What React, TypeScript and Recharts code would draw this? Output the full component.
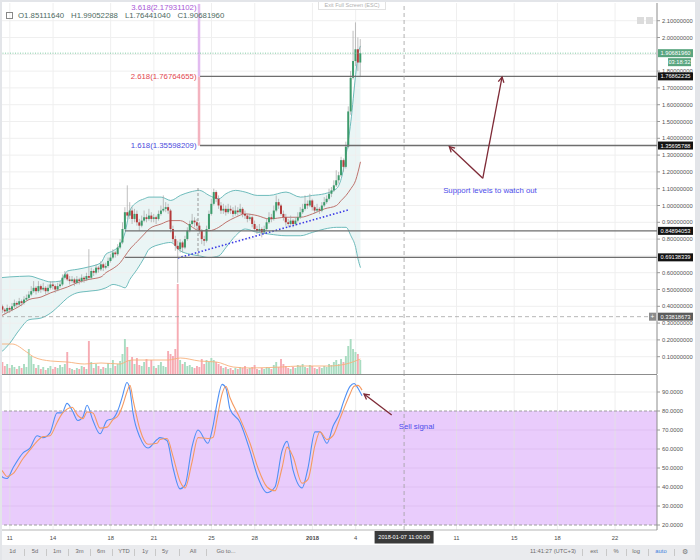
import React from 'react';
import {
  ComposedChart,
  Bar,
  Line,
  Area,
  XAxis,
  YAxis,
  ReferenceLine,
  ReferenceArea,
  ReferenceDot,
} from 'recharts';

const FONT = '"Liberation Sans", Arial, Helvetica, sans-serif';

// ---------- axes ----------
// x: days since 2017-12-11 00:00
const dayTicks = [0, 3, 7, 10, 14, 17, 21, 24, 31, 35, 38, 42];
const dayLabels = ['11', '14', '18', '21', '25', '28', '2018', '4', '11', '15', '18', '22'];
const priceGrid = [0.1, 0.2, 0.3, 0.4, 0.5, 0.6, 0.7, 0.8, 0.9, 1.0, 1.1, 1.2, 1.3, 1.4, 1.5, 1.6, 1.7, 1.8, 1.9, 2.0, 2.1];
// labels hidden behind the price badges (1.9 and 0.7) are not printed
const priceTicks = [0.1, 0.2, 0.3, 0.4, 0.5, 0.6, 0.8, 0.9, 1.0, 1.1, 1.2, 1.3, 1.4, 1.5, 1.6, 1.7, 1.8, 2.0, 2.1];
const rsiTicks = [20, 30, 40, 50, 60, 70, 80, 90];
const X_DOMAIN: [number, number] = [-0.68, 44.91];
const PRICE_DOMAIN: [number, number] = [-0.003, 2.2054];
const RSI_DOMAIN: [number, number] = [17.37, 98.95];
const VOL_DOMAIN: [number, number] = [0, 371];

// 4h candles starting 2017-12-10 08:00
const firstCandleDay = -2 / 3;
const candleStep = 1 / 6;

// [open, high, low, close]
const candles: number[][] = [
  [0.41, 0.43, 0.38, 0.40], [0.40, 0.41, 0.36, 0.38], [0.38, 0.39, 0.35, 0.37], [0.37, 0.41, 0.36, 0.39], [0.39, 0.40, 0.36, 0.38],
  [0.38, 0.42, 0.37, 0.40], [0.40, 0.44, 0.39, 0.42], [0.42, 0.43, 0.39, 0.41], [0.41, 0.45, 0.40, 0.43], [0.43, 0.44, 0.40, 0.42],
  [0.42, 0.46, 0.41, 0.44], [0.44, 0.47, 0.43, 0.45], [0.45, 0.49, 0.44, 0.47], [0.47, 0.52, 0.46, 0.49], [0.49, 0.55, 0.48, 0.51],
  [0.51, 0.52, 0.47, 0.49], [0.49, 0.55, 0.48, 0.52], [0.52, 0.53, 0.48, 0.50], [0.50, 0.54, 0.49, 0.51], [0.51, 0.52, 0.47, 0.49],
  [0.49, 0.53, 0.48, 0.51], [0.51, 0.55, 0.50, 0.53], [0.53, 0.55, 0.50, 0.52], [0.52, 0.53, 0.48, 0.50], [0.50, 0.54, 0.49, 0.52],
  [0.52, 0.55, 0.51, 0.53], [0.53, 0.59, 0.52, 0.57], [0.57, 0.61, 0.56, 0.59], [0.59, 0.60, 0.55, 0.56], [0.56, 0.58, 0.53, 0.55],
  [0.55, 0.58, 0.54, 0.56], [0.56, 0.57, 0.52, 0.54], [0.54, 0.58, 0.53, 0.56], [0.56, 0.57, 0.53, 0.55], [0.55, 0.59, 0.54, 0.57],
  [0.57, 0.58, 0.54, 0.56], [0.56, 0.60, 0.55, 0.58], [0.58, 0.74, 0.56, 0.57], [0.57, 0.63, 0.56, 0.61], [0.61, 0.62, 0.58, 0.60],
  [0.60, 0.65, 0.59, 0.63], [0.63, 0.64, 0.60, 0.62], [0.62, 0.67, 0.61, 0.65], [0.65, 0.66, 0.61, 0.63], [0.63, 0.66, 0.62, 0.64],
  [0.64, 0.69, 0.63, 0.67], [0.67, 0.71, 0.66, 0.69], [0.69, 0.74, 0.68, 0.72], [0.72, 0.73, 0.69, 0.71], [0.71, 0.77, 0.70, 0.75],
  [0.75, 0.80, 0.74, 0.78], [0.78, 0.90, 0.77, 0.86], [0.86, 0.99, 0.85, 0.96], [0.96, 1.12, 0.92, 0.94], [0.94, 1.02, 0.92, 0.97],
  [0.97, 0.99, 0.89, 0.92], [0.92, 0.98, 0.90, 0.95], [0.95, 0.97, 0.88, 0.90], [0.90, 0.92, 0.85, 0.88], [0.88, 0.94, 0.87, 0.91],
  [0.91, 0.97, 0.90, 0.93], [0.93, 0.95, 0.90, 0.92], [0.92, 0.98, 0.91, 0.94], [0.94, 0.96, 0.90, 0.92], [0.92, 0.95, 0.90, 0.93],
  [0.93, 0.94, 0.89, 0.92], [0.92, 0.97, 0.91, 0.95], [0.95, 1.00, 0.94, 0.97], [0.97, 1.06, 0.96, 0.98], [0.98, 1.02, 0.96, 0.99],
  [0.99, 1.01, 0.95, 0.97], [0.97, 0.98, 0.84, 0.86], [0.86, 0.88, 0.78, 0.80], [0.80, 0.82, 0.73, 0.76], [0.76, 0.79, 0.54, 0.74],
  [0.74, 0.80, 0.72, 0.78], [0.78, 0.79, 0.72, 0.75], [0.75, 0.82, 0.74, 0.80], [0.80, 0.87, 0.79, 0.85], [0.85, 0.91, 0.84, 0.89],
  [0.89, 0.95, 0.88, 0.91], [0.91, 0.93, 0.87, 0.90], [0.90, 0.92, 0.86, 0.88], [0.88, 0.90, 0.83, 0.85], [0.85, 0.86, 0.77, 0.80],
  [0.80, 0.82, 0.76, 0.79], [0.79, 0.88, 0.78, 0.86], [0.86, 0.97, 0.85, 0.95], [0.95, 1.04, 0.94, 1.01], [1.01, 1.10, 1.00, 1.08],
  [1.08, 1.09, 1.02, 1.04], [1.04, 1.06, 0.98, 1.00], [1.00, 1.02, 0.95, 0.97], [0.97, 1.01, 0.95, 0.98], [0.98, 1.00, 0.94, 0.96],
  [0.96, 1.01, 0.95, 0.98], [0.98, 1.00, 0.95, 0.97], [0.97, 0.99, 0.93, 0.95], [0.95, 1.00, 0.94, 0.97], [0.97, 0.99, 0.94, 0.96],
  [0.96, 1.01, 0.95, 0.98], [0.98, 0.99, 0.93, 0.95], [0.95, 0.97, 0.92, 0.94], [0.94, 0.95, 0.90, 0.92], [0.92, 0.95, 0.91, 0.93],
  [0.93, 0.94, 0.87, 0.89], [0.89, 0.91, 0.85, 0.86], [0.86, 0.88, 0.83, 0.85], [0.85, 0.89, 0.84, 0.86], [0.86, 0.87, 0.81, 0.84],
  [0.84, 0.88, 0.83, 0.86], [0.86, 0.92, 0.85, 0.90], [0.90, 0.96, 0.89, 0.93], [0.93, 0.95, 0.90, 0.92], [0.92, 1.00, 0.91, 0.97],
  [0.97, 1.06, 0.96, 1.02], [1.02, 1.04, 0.98, 1.00], [1.00, 1.01, 0.94, 0.95], [0.95, 0.97, 0.91, 0.93], [0.93, 0.95, 0.88, 0.90],
  [0.90, 0.92, 0.87, 0.89], [0.89, 0.94, 0.88, 0.91], [0.91, 0.92, 0.87, 0.89], [0.89, 0.93, 0.88, 0.91], [0.91, 0.96, 0.90, 0.93],
  [0.93, 0.99, 0.92, 0.96], [0.96, 1.01, 0.95, 0.98], [0.98, 1.06, 0.97, 1.01], [1.01, 1.03, 0.98, 1.00], [1.00, 1.07, 0.99, 1.03],
  [1.03, 1.04, 0.97, 0.99], [0.99, 1.00, 0.95, 0.97], [0.97, 1.01, 0.96, 0.98], [0.98, 0.99, 0.95, 0.97], [0.97, 1.02, 0.96, 1.00],
  [1.00, 1.05, 0.99, 1.02], [1.02, 1.06, 1.01, 1.04], [1.04, 1.10, 1.03, 1.07], [1.07, 1.11, 1.05, 1.09], [1.09, 1.15, 1.08, 1.12],
  [1.12, 1.21, 1.11, 1.15], [1.15, 1.20, 1.13, 1.18], [1.18, 1.29, 1.17, 1.27], [1.27, 1.28, 1.20, 1.23], [1.23, 1.38, 1.22, 1.35],
  [1.35, 1.59, 1.34, 1.56], [1.56, 1.80, 1.54, 1.76], [1.76, 2.04, 1.75, 1.86], [1.86, 2.09, 1.83, 1.93], [1.93, 2.00, 1.80, 1.8511164],
  [1.8511164, 1.99052288, 1.7644104, 1.9068196],
];

const volumes: number[] = [
  22, 12, 8, 10, 6,
  9, 7, 5, 8, 6, 10, 7, 25,
  18, 10, 6, 9, 5, 7, 4, 6,
  8, 5, 7, 6, 9, 7, 10, 22, 6, 5,
  4, 6, 5, 8, 7, 5, 33, 12, 6, 10,
  8, 5, 7, 6, 11, 6, 14, 8, 10, 13,
  20, 35, 27, 14, 17, 10, 16, 9, 8, 12,
  15, 7, 14, 8, 6, 9, 12, 8, 7, 23,
  20, 18, 25, 90, 14, 10, 12, 8, 9, 7,
  6, 8, 7, 15, 10, 14, 12, 16, 14, 12,
  10, 8, 6, 7, 5, 6, 4, 6, 5, 7,
  6, 8, 5, 6, 7, 9, 5, 4, 6, 5,
  7, 6, 5, 9, 12, 7, 15, 10, 8, 6,
  5, 7, 6, 9, 8, 10, 7, 6, 9, 8,
  6, 5, 7, 6, 8, 7, 10, 9, 12, 14,
  10, 15, 12, 18, 28, 35, 25, 22, 20, 14,
];

// [candle index, lower, basis, upper]
const bollinger: number[][] = [
  [0, 0.12, 0.34, 0.57], [4, 0.18, 0.37, 0.575], [8, 0.26, 0.40, 0.578], [12, 0.32, 0.44, 0.58], [17, 0.33, 0.455, 0.56],
  [21, 0.36, 0.48, 0.545], [25, 0.41, 0.50, 0.55], [28, 0.45, 0.515, 0.61], [32, 0.48, 0.54, 0.62], [37, 0.49, 0.56, 0.635],
  [42, 0.50, 0.575, 0.66], [44, 0.51, 0.60, 0.71], [47, 0.53, 0.625, 0.73], [50, 0.52, 0.66, 0.77], [52, 0.51, 0.70, 0.84],
  [54, 0.56, 0.74, 0.97], [57, 0.62, 0.785, 1.02], [60, 0.69, 0.83, 1.04], [62, 0.74, 0.86, 1.05], [67, 0.77, 0.89, 1.05],
  [71, 0.78, 0.91, 1.03], [75, 0.73, 0.91, 1.06], [79, 0.71, 0.88, 1.08], [83, 0.70, 0.85, 1.09], [87, 0.69, 0.85, 1.06],
  [91, 0.70, 0.87, 1.04], [94, 0.75, 0.90, 1.07], [98, 0.82, 0.93, 1.09], [102, 0.86, 0.95, 1.08], [107, 0.84, 0.94, 1.06],
  [112, 0.83, 0.92, 1.06], [119, 0.82, 0.93, 1.08], [125, 0.82, 0.93, 1.05], [130, 0.84, 0.95, 1.06], [135, 0.86, 0.98, 1.07],
  [140, 0.87, 1.00, 1.10], [142, 0.87, 1.03, 1.16], [144, 0.87, 1.06, 1.30], [146, 0.82, 1.10, 1.50], [148, 0.75, 1.15, 1.78],
  [149, 0.68, 1.20, 1.90], [150, 0.63, 1.26, 1.95],
];

// [candle index, volume moving average]
const volumeMA: number[][] = [
  [0, 30], [5, 30], [11, 22], [14, 17], [21, 13], [28, 12], [35, 10], [42, 11], [50, 10], [53, 13], [55, 14],
  [62, 14], [70, 14], [75, 16], [83, 13], [90, 12], [97, 7], [104, 6], [117, 7], [125, 8], [137, 8], [144, 10], [150, 15],
];

// [day, %K, %D]
const stochRsi: number[][] = [
  [-0.68, 47, 50], [-0.47, 45, 48], [-0.19, 44.5, 45.5], [0.22, 50, 47], [0.92, 58, 55], [1.40, 60.5, 59.5],
  [1.89, 67, 64], [2.30, 66, 66.5], [2.79, 68.5, 67], [3.28, 79, 74], [3.62, 79, 78.5], [3.97, 84, 81],
  [4.32, 80.5, 82], [4.73, 75, 77.5], [5.08, 77, 76], [5.36, 83, 79.5], [5.77, 75, 79], [6.26, 68, 71],
  [6.75, 75, 71.5], [7.16, 76, 75.5], [7.51, 80.5, 77.5], [7.79, 87, 82], [8.13, 95, 90], [8.34, 91, 93.5],
  [8.55, 79, 86], [9.04, 66, 70], [9.59, 60.5, 62.5], [10.22, 65, 63], [10.42, 66, 65], [10.91, 64.5, 65.5],
  [11.33, 50, 56], [11.81, 39, 43], [12.16, 41, 39.5], [12.64, 61, 53], [13.06, 70, 66], [13.75, 63, 65.5],
  [14.10, 72, 66], [14.38, 84, 76], [14.73, 94, 89], [15.00, 92, 93], [15.28, 81, 87], [15.98, 74, 76],
  [16.67, 59, 63], [17.22, 45, 50], [17.85, 37, 40], [18.40, 40, 38], [18.89, 59, 50], [19.24, 64, 61],
  [19.65, 49, 56], [20.28, 39.5, 42], [20.69, 50, 44], [21.18, 69, 62], [21.52, 69, 69], [22.01, 63, 65],
  [22.43, 72, 67], [22.91, 79, 76], [23.12, 84, 80], [23.61, 93, 89], [23.89, 94.5, 93], [24.16, 92, 93.5],
  [24.44, 88, 91],
];

// drawn levels: [price, start day]
const supportLevels: number[][] = [
  [1.76862235, 13.2], [1.35695788, 13.2], [0.84894053, 8.0], [0.69138339, 8.0],
];
const fibLevels = [
  { label: '3.618(2.17931102)', value: 2.17931102, color: '#a957d6' },
  { label: '2.618(1.76764655)', value: 1.76764655, color: '#e2474f' },
  { label: '1.618(1.35598209)', value: 1.35598209, color: '#4b4bdc' },
];
const fibDay = 13.13;
const fibLabelDay = 12.96;
const lastPrice = 1.9068196;
const countdown = '03:18:32';
const crosshairDay = 27.36;
const crosshairPrice = 0.33818673;
const crosshairLabel = '2018-01-07 11:00:00';
const trendline = [[11.67, 0.6875], [23.47, 0.9732]];
const priceArrows = [
  [[32.82, 1.162], [30.5, 1.35]],
  [[32.82, 1.162], [34.16, 1.765]],
];
const supportNote = { text: 'Support levels to watch out', day: 33.32, price: 1.088 };
const rsiArrow = [[26.5, 77.9], [24.58, 88.9]];
const sellNote = { text: 'Sell signal', day: 28.22, value: 72.1 };

// ---------- derived tables ----------
const candleRows = candles.map((c, i) => ({
  t: firstCandleDay + i * candleStep,
  o: c[0], h: c[1], l: c[2], c: c[3],
  range: [c[2], c[1]],
  v: volumes[i],
  vma: undefined as number | undefined,
}));
volumeMA.forEach(([i, v]) => { candleRows[i].vma = v; });

const bbRows = bollinger.map(([i, lo, mid, up]) => ({
  t: firstCandleDay + i * candleStep,
  band: [lo, up],
  lo, mid, up,
}));

const rsiRows = stochRsi.map(([t, k, d]) => ({ t, k, d }));

// ---------- shapes ----------
function CandleShape(props: any) {
  const { x, y, width, height, payload } = props;
  if (payload == null || x == null || y == null || isNaN(y)) return null;
  const top = Math.min(y, y + height);
  const bottom = Math.max(y, y + height);
  const span = payload.h - payload.l;
  const toY = (v: number) => (span > 0 ? top + ((payload.h - v) / span) * (bottom - top) : top);
  const cx = x + width / 2;
  const yo = toY(payload.o);
  const yc = toY(payload.c);
  const up = payload.c >= payload.o;
  const bt = Math.min(yo, yc);
  const bh = Math.max(Math.abs(yo - yc), 0.8);
  return (
    <g>
      <line x1={cx} x2={cx} y1={top} y2={bottom} stroke="#a3a3a3" strokeWidth={0.7} />
      <rect x={cx - 1} y={bt} width={2} height={bh} fill={up ? '#3d9b6c' : '#b43a3a'} />
    </g>
  );
}

function VolumeShape(props: any) {
  const { x, y, width, height, payload } = props;
  if (payload == null || x == null || y == null || isNaN(y)) return null;
  const cx = x + width / 2;
  const up = payload.c >= payload.o;
  return <rect x={cx - 0.95} y={y} width={1.9} height={Math.max(height, 0)} fill={up ? '#a9dcc1' : '#f6abb3'} />;
}

function ArrowShape(props: any) {
  const { x1, y1, x2, y2 } = props;
  if ([x1, y1, x2, y2].some((v) => v == null || isNaN(v))) return null;
  const ang = Math.atan2(y2 - y1, x2 - x1);
  const len = 6;
  const spread = 0.5;
  const ax = x2 - len * Math.cos(ang - spread);
  const ay = y2 - len * Math.sin(ang - spread);
  const bx = x2 - len * Math.cos(ang + spread);
  const by = y2 - len * Math.sin(ang + spread);
  return (
    <g>
      <line x1={x1} y1={y1} x2={x2} y2={y2} stroke="#7e2a36" strokeWidth={1.3} />
      <polyline points={`${ax},${ay} ${x2},${y2} ${bx},${by}`} fill="none" stroke="#7e2a36" strokeWidth={1.3} />
    </g>
  );
}

const textShape = (text: string, color: string, anchor: 'start' | 'middle' | 'end', size = 7.8) =>
  (p: any) => (
    <text x={p.cx} y={p.cy} fill={color} fontSize={size} textAnchor={anchor} dominantBaseline="central" fontFamily={FONT}>
      {text}
    </text>
  );

const badge = (text: string, bg: string, opts: { sub?: string; plus?: boolean } = {}) => (props: any) => {
  const vb = props.viewBox;
  if (!vb) return null;
  const right = vb.x + vb.width;
  const cy = vb.y;
  return (
    <g>
      {opts.plus && (
        <g>
          <rect x={right - 8} y={cy - 4} width={7} height={8} fill="#8b8b8b" />
          <text x={right - 4.5} y={cy} fill="#fff" fontSize={6.5} textAnchor="middle" dominantBaseline="central" fontFamily={FONT}>+</text>
        </g>
      )}
      <rect x={right + 1} y={cy - 4} width={35} height={8} fill={bg} />
      <text x={right + 18.5} y={cy} fill="#fff" fontSize={5.7} textAnchor="middle" dominantBaseline="central" fontFamily={FONT}>
        {text}
      </text>
      {opts.sub && (
        <g>
          <rect x={right + 11} y={cy + 5} width={23} height={8} fill={bg} />
          <text x={right + 22.5} y={cy + 9} fill="#fff" fontSize={5.7} textAnchor="middle" dominantBaseline="central" fontFamily={FONT}>
            {opts.sub}
          </text>
        </g>
      )}
    </g>
  );
};

const dateBoxLabel = (props: any) => {
  const vb = props.viewBox;
  if (!vb) return null;
  const cx = vb.x;
  const y0 = vb.y + vb.height + 1;
  return (
    <g>
      <rect x={cx - 29.5} y={y0} width={59} height={12.5} fill="#3a3a3a" />
      <text x={cx} y={y0 + 6.3} fill="#fff" fontSize={5.6} textAnchor="middle" dominantBaseline="central" fontFamily={FONT}>
        {crosshairLabel}
      </text>
    </g>
  );
};

function DateTick(props: any) {
  const { x, y, payload } = props;
  const idx = dayTicks.indexOf(payload.value);
  const label = idx >= 0 ? dayLabels[idx] : '';
  return (
    <text x={x} y={y} dy="0.35em" textAnchor="middle" fontSize={5.8} fill="#4a4a4a" fontWeight={label === '2018' ? 'bold' : 'normal'} fontFamily={FONT}>
      {label}
    </text>
  );
}

const layer: React.CSSProperties = { position: 'absolute', left: 0, top: 0 };
const PRICE_H = 374;

const hiddenX = <XAxis dataKey="t" type="number" domain={X_DOMAIN} hide allowDataOverflow />;

export default function App() {
  const toolbarLeft: [string, number][] = [
    ['1d', 12.5], ['5d', 35], ['1m', 57], ['3m', 79.5], ['6m', 101], ['YTD', 124], ['1y', 145], ['5y', 165], ['All', 193], ['Go to...', 226],
  ];
  const sepLeft = [24, 46, 68, 90, 112, 134, 155, 179, 206];
  const toolbarRight: [string, number, string][] = [
    ['11:41:27 (UTC+3)', 553, '#6a6a6a'], ['ext', 594, '#6a6a6a'], ['%', 616, '#6a6a6a'], ['log', 636, '#6a6a6a'], ['auto', 661, '#3b7ddd'], ['⚙', 685, '#777'],
  ];
  const sepRight = [582, 606, 626, 648, 674];

  return (
    <div style={{ position: 'absolute', left: 0, top: 0, width: 700, height: 560, background: '#fff', overflow: 'hidden', fontFamily: FONT }}>
      {/* Layer 1: grid, axis, Bollinger bands */}
      <div style={layer}>
        <ComposedChart width={700} height={PRICE_H} data={bbRows} margin={{ top: 3, right: 0, left: 0, bottom: 0 }}>
          {hiddenX}
          <YAxis
            orientation="right"
            width={43}
            domain={PRICE_DOMAIN}
            allowDataOverflow
            ticks={priceTicks}
            interval={0}
            tickFormatter={(v: number) => v.toFixed(8)}
            tick={{ fontSize: 5.8, fill: '#555', fontFamily: FONT }}
            tickSize={3}
            tickMargin={2}
            axisLine={{ stroke: '#8c8c8c' }}
            tickLine={{ stroke: '#9a9a9a' }}
          />
          {priceGrid.map((v) => (
            <ReferenceLine key={'h' + v} y={v} stroke="#efefef" strokeWidth={1} />
          ))}
          {dayTicks.map((d) => (
            <ReferenceLine key={'v' + d} x={d} stroke="#efefef" strokeWidth={1} />
          ))}
          <Area dataKey="band" type="monotone" stroke="none" fill="#dcefef" fillOpacity={0.6} isAnimationActive={false} />
          <Line dataKey="up" type="monotone" stroke="#5fb4b4" strokeWidth={0.9} dot={false} isAnimationActive={false} />
          <Line dataKey="lo" type="monotone" stroke="#5fb4b4" strokeWidth={0.9} dot={false} isAnimationActive={false} />
          <Line dataKey="mid" type="monotone" stroke="#b8645e" strokeWidth={0.9} dot={false} isAnimationActive={false} />
        </ComposedChart>
      </div>

      {/* Layer 2: volume */}
      <div style={layer}>
        <ComposedChart width={700} height={PRICE_H} data={candleRows} margin={{ top: 3, right: 43, left: 0, bottom: 0 }}>
          {hiddenX}
          <YAxis hide domain={VOL_DOMAIN} allowDataOverflow />
          <Bar dataKey="v" shape={VolumeShape} barSize={2} isAnimationActive={false} />
          <Line dataKey="vma" type="monotone" connectNulls stroke="#f7b07a" strokeWidth={0.9} dot={false} isAnimationActive={false} />
        </ComposedChart>
      </div>

      {/* Layer 3: candles and drawings */}
      <div style={layer}>
        <ComposedChart width={700} height={PRICE_H} data={candleRows} margin={{ top: 3, right: 43, left: 0, bottom: 0 }}>
          {hiddenX}
          <YAxis hide domain={PRICE_DOMAIN} allowDataOverflow />
          <ReferenceLine
            segment={[{ x: fibDay, y: 2.2 }, { x: fibDay, y: fibLevels[1].value }]}
            stroke="#e2bbf0"
            strokeWidth={2.5}
          />
          <ReferenceLine
            segment={[{ x: fibDay, y: fibLevels[1].value }, { x: fibDay, y: fibLevels[2].value }]}
            stroke="#f3b3bf"
            strokeWidth={2.5}
          />
          <ReferenceLine
            segment={[{ x: 13.06, y: 1.104 }, { x: 13.06, y: 0.693 }]}
            stroke="#9a9a9a"
            strokeDasharray="3 2"
          />
          <Bar dataKey="range" shape={CandleShape} barSize={2} isAnimationActive={false} />
          <ReferenceLine
            segment={[{ x: trendline[0][0], y: trendline[0][1] }, { x: trendline[1][0], y: trendline[1][1] }]}
            stroke="#3a3ae6"
            strokeWidth={1.6}
            strokeDasharray="1.5 2"
          />
          <ReferenceLine y={lastPrice} stroke="#63c08f" strokeDasharray="1 1.5" strokeWidth={0.8} label={badge(lastPrice.toFixed(8), '#5aa57f', { sub: countdown })} />
          {supportLevels.map(([p, start]) => (
            <ReferenceLine
              key={'s' + p}
              segment={[{ x: start, y: p }, { x: X_DOMAIN[1], y: p }]}
              stroke="#6e6e6e"
              strokeWidth={1.4}
              label={badge(p.toFixed(8), '#131313')}
            />
          ))}
          <ReferenceLine y={crosshairPrice} stroke="#a5a5a5" strokeDasharray="4 3" strokeWidth={0.8} label={badge(crosshairPrice.toFixed(8), '#5c5c5c', { plus: true })} />
          <ReferenceLine x={crosshairDay} stroke="#a0a0a0" strokeDasharray="4 3" strokeWidth={0.8} />
          {fibLevels.map((f) => (
            <ReferenceDot key={f.label} x={fibLabelDay} y={f.value} r={1} shape={textShape(f.label, f.color, 'end')} />
          ))}
          {priceArrows.map((a, i) => (
            <ReferenceLine key={'a' + i} segment={[{ x: a[0][0], y: a[0][1] }, { x: a[1][0], y: a[1][1] }]} shape={ArrowShape} />
          ))}
          <ReferenceDot x={supportNote.day} y={supportNote.price} r={1} shape={textShape(supportNote.text, '#4c4cea', 'middle')} />
        </ComposedChart>
      </div>

      {/* panel separator */}
      <div style={{ position: 'absolute', left: 0, top: 374, width: 657, height: 1, background: '#8d8d8d' }} />

      {/* Stoch RSI panel */}
      <div style={{ position: 'absolute', left: 0, top: 374 }}>
        <ComposedChart width={700} height={170} data={rsiRows} margin={{ top: 1, right: 0, left: 0, bottom: 0 }}>
          <XAxis
            dataKey="t"
            type="number"
            domain={X_DOMAIN}
            allowDataOverflow
            ticks={dayTicks}
            interval={0}
            height={14}
            tick={<DateTick />}
            tickLine={false}
            axisLine={{ stroke: '#b5b5b5' }}
          />
          <YAxis
            orientation="right"
            width={43}
            domain={RSI_DOMAIN}
            allowDataOverflow
            ticks={rsiTicks}
            interval={0}
            tickFormatter={(v: number) => v.toFixed(4)}
            tick={{ fontSize: 5.8, fill: '#555', fontFamily: FONT }}
            tickSize={3}
            tickMargin={2}
            axisLine={{ stroke: '#8c8c8c' }}
            tickLine={{ stroke: '#9a9a9a' }}
          />
          {[90].map((v) => (
            <ReferenceLine key={'rh' + v} y={v} stroke="#efefef" />
          ))}
          {dayTicks.map((d) => (
            <ReferenceLine key={'rvw' + d} x={d} stroke="#efefef" />
          ))}
          <ReferenceArea y1={20} y2={80} fill="#e9ccfc" fillOpacity={1} stroke="none" />
          {[30, 40, 50, 60, 70].map((v) => (
            <ReferenceLine key={'rh' + v} y={v} stroke="#c9a9dd" strokeOpacity={0.3} />
          ))}
          {dayTicks.map((d) => (
            <ReferenceLine key={'rv' + d} segment={[{ x: d, y: 20 }, { x: d, y: 80 }]} stroke="#c9a9dd" strokeOpacity={0.3} />
          ))}
          <ReferenceLine y={80} stroke="#9e9e9e" strokeDasharray="3 2" />
          <ReferenceLine y={20} stroke="#9e9e9e" strokeDasharray="3 2" />
          <ReferenceLine x={crosshairDay} stroke="#a0a0a0" strokeDasharray="4 3" strokeWidth={0.8} label={dateBoxLabel} />
          <Line dataKey="k" type="monotone" stroke="#4f90f5" strokeWidth={1.1} dot={false} isAnimationActive={false} />
          <Line dataKey="d" type="monotone" stroke="#f59a62" strokeWidth={1.1} dot={false} isAnimationActive={false} />
          <ReferenceLine segment={[{ x: rsiArrow[0][0], y: rsiArrow[0][1] }, { x: rsiArrow[1][0], y: rsiArrow[1][1] }]} shape={ArrowShape} />
          <ReferenceDot x={sellNote.day} y={sellNote.value} r={1} shape={textShape(sellNote.text, '#4c4cea', 'middle')} />
        </ComposedChart>
      </div>

      {/* header */}
      <div style={{ position: 'absolute', left: 6, top: 10, height: 10, display: 'flex', alignItems: 'center', fontSize: 7.8, color: '#4d6a62', whiteSpace: 'nowrap' }}>
        <span style={{ display: 'inline-block', width: 5, height: 5, border: '0.8px solid #888', marginRight: 5 }} />
        <span style={{ marginRight: 7 }}>O1.85111640</span>
        <span style={{ marginRight: 7 }}>H1.99052288</span>
        <span style={{ marginRight: 7 }}>L1.76441040</span>
        <span>C1.90681960</span>
      </div>
      <div style={{ position: 'absolute', left: 318, top: 0, width: 68, height: 10, border: '0.6px solid #e2e2e2', borderTop: 'none', background: 'rgba(255,255,255,0.9)', fontSize: 5.5, color: '#b0b0b0', display: 'flex', alignItems: 'center', justifyContent: 'center', boxSizing: 'border-box' }}>
        Exit Full Screen (ESC)
      </div>
      <div style={{ position: 'absolute', left: 637, top: 17, width: 7, height: 7, background: '#dcdcdc' }} />
      <div style={{ position: 'absolute', left: 646, top: 17, width: 7, height: 7, background: '#dcdcdc' }} />

      {/* toolbar */}
      <div style={{ position: 'absolute', left: 0, top: 545, width: 700, height: 15, background: '#eaebee' }}>
        {toolbarLeft.map(([t, cx]) => (
          <span key={t} style={{ position: 'absolute', left: cx - 20, width: 40, top: 3, textAlign: 'center', fontSize: 5.8, color: '#6a6a6a' }}>{t}</span>
        ))}
        {sepLeft.map((x) => (
          <span key={'sl' + x} style={{ position: 'absolute', left: x, top: 4, width: 0.6, height: 7, background: '#c8c8c8' }} />
        ))}
        {toolbarRight.map(([t, cx, col]) => (
          <span key={t} style={{ position: 'absolute', left: cx - 30, width: 60, top: 3, textAlign: 'center', fontSize: t === '⚙' ? 7 : 5.8, color: col }}>{t}</span>
        ))}
        {sepRight.map((x) => (
          <span key={'sr' + x} style={{ position: 'absolute', left: x, top: 4, width: 0.6, height: 7, background: '#c8c8c8' }} />
        ))}
      </div>

      {/* frame */}
      <div style={{ position: 'absolute', left: 0, top: 0, width: 2, height: 560, background: '#e3e5e9' }} />
      <div style={{ position: 'absolute', left: 695, top: 0, width: 5, height: 560, background: '#e3e5e9' }} />
      <div style={{ position: 'absolute', left: 0, top: 0, width: 700, height: 1.5, background: '#e3e5e9' }} />
    </div>
  );
}
